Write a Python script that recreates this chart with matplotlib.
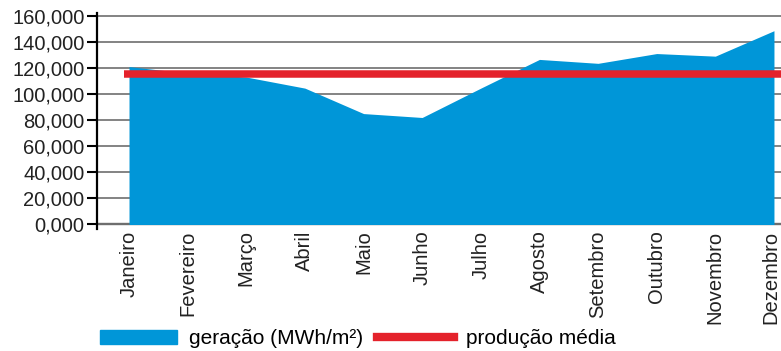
import matplotlib.pyplot as plt
from matplotlib.patches import Patch
from matplotlib.lines import Line2D
from matplotlib.transforms import ScaledTranslation
import numpy as np

plt.rcParams['font.family'] = ['Liberation Sans', 'DejaVu Sans']

meses = ['Janeiro', 'Fevereiro', 'Março', 'Abril', 'Maio', 'Junho',
         'Julho', 'Agosto', 'Setembro', 'Outubro', 'Novembro', 'Dezembro']
geracao = [121000, 116000, 113000, 104500, 85000, 82000,
           104500, 126500, 123500, 131000, 129000, 148500]
producao_media = np.mean(geracao)
yticks = [0, 20000, 40000, 60000, 80000, 100000, 120000, 140000, 160000]

azul = '#0096d8'
vermelho = '#e4222b'

fig = plt.figure(figsize=(7.81, 3.51), dpi=100)
ax = fig.add_axes([0.1242, 0.3476, 0.8758, 0.6162])

x = np.arange(len(meses))
ax.fill_between(x, 0, geracao, color=azul, lw=0, zorder=2)
ax.axhline(producao_media, xmin=0.04, xmax=1, color=vermelho, lw=5.4,
           solid_capstyle='butt', zorder=3)

ax.set_xlim(-0.546, 11.12)
ax.set_ylim(-3450, 162300)

# eixo y com rótulos no formato 0,000 / 20,000 ...
ax.set_yticks(yticks)
ax.set_yticklabels([f'{v:,}' if v else '0,000' for v in yticks],
                   fontsize=14.5, color='#222222')
ax.yaxis.grid(True, color='#7a7a7a', lw=1.3, zorder=1)
ax.axhline(0, color='black', lw=1.6, zorder=1)
ax.tick_params(axis='y', direction='out', length=7, width=1.5, pad=2,
               color='black')

ax.set_xticks(x)
ax.set_xticklabels(meses, rotation=90, fontsize=14.5, color='#222222',
                   va='top', ha='center')
ax.tick_params(axis='x', length=0, pad=1)
# o último mês encosta na borda direita: puxa um pouco para dentro
ultimo = ax.get_xticklabels()[-1]
ultimo.set_transform(ultimo.get_transform() +
                     ScaledTranslation(-3 / 100, 0, fig.dpi_scale_trans))

for lado in ['top', 'right', 'bottom']:
    ax.spines[lado].set_visible(False)
ax.spines['left'].set_linewidth(1.6)
ax.spines['left'].set_zorder(4)

handles = [Patch(color=azul, label='geração (MWh/m²)'),
           Line2D([], [], color=vermelho, lw=6, label='produção média')]
fig.legend(handles=handles, ncol=2, loc='lower left',
           bbox_to_anchor=(0.104, -0.046), frameon=False, fontsize=15,
           handlelength=3.7, handleheight=0.7, columnspacing=0.7,
           handletextpad=0.55)

fig.savefig('out.png', dpi=100)
